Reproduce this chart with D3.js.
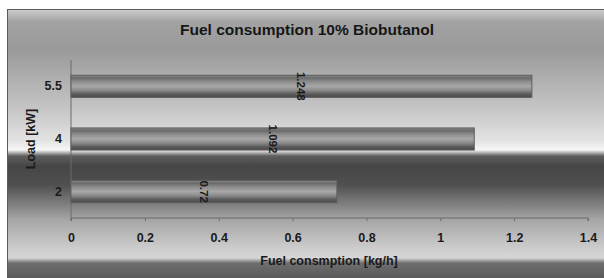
<!DOCTYPE html>
<html lang="en">
<head>
<meta charset="utf-8">
<title>Fuel consumption</title>
<script src="https://d3js.org/d3.v7.min.js"></script>
<style>
  body { margin: 0; background: #fff; }
  svg text { font-family: "Liberation Sans", Arial, sans-serif; }
  .axis path, .axis line { stroke: #6a6a6a; }
  .axis text { font-size: 12.5px; font-weight: bold; fill: #1a1a1a; }
</style>
</head>
<body>
<div class="chart"></div>
<script>
// data
var loads = ["5.5", "4", "2"];
var consumption = [1.248, 1.092, 0.72];
var labels = ["1.248", "1.092", "0.72"];
var xTicks = [0, 0.2, 0.4, 0.6, 0.8, 1, 1.2, 1.4];

var width = 604, height = 278;
var svg = d3.select(".chart").append("svg")
    .attr("width", width)
    .attr("height", height);

var defs = svg.append("defs");

// background gradient of the chart frame
var bg = defs.append("linearGradient")
    .attr("id", "bg")
    .attr("gradientUnits", "userSpaceOnUse")
    .attr("x1", 0).attr("y1", 9).attr("x2", 0).attr("y2", 278);
[[9, "#cfcfcf"], [22, "#a2a2a2"], [50, "#9a9a9a"], [110, "#c6c6c6"], [140, "#e2e2e2"],
 [150, "#f6f6f6"], [156, "#5e5e5e"], [166, "#464646"], [185, "#505050"], [220, "#a6a6a6"],
 [245, "#c8c8c8"], [258, "#d6d6d6"], [263, "#6e6e6e"], [278, "#5a5a5a"]]
  .forEach(function(s) {
      bg.append("stop").attr("offset", (s[0] - 9) / 269).attr("stop-color", s[1]);
  });

// cylinder shading for bars
var bar = defs.append("linearGradient")
    .attr("id", "bar")
    .attr("x1", 0).attr("y1", 0).attr("x2", 0).attr("y2", 1);
[[0, "#8a8a8a"], [0.12, "#6a6a6a"], [0.3, "#8e8e8e"], [0.5, "#a8a8a8"],
 [0.68, "#8a8a8a"], [0.85, "#5c5c5c"], [1, "#4a4a4a"]]
  .forEach(function(s) {
      bar.append("stop").attr("offset", s[0]).attr("stop-color", s[1]);
  });

svg.append("rect")
    .attr("x", 7.5).attr("y", 9.5)
    .attr("width", width).attr("height", height)
    .attr("fill", "url(#bg)")
    .attr("stroke", "#5a5a5a");

// scales
var x = d3.scaleLinear().domain([0, 1.4]).range([71, 588]);
var y = d3.scaleBand().domain(loads).range([60, 218]).paddingInner(0.58).paddingOuter(0.29);

svg.append("g")
    .attr("class", "axis")
    .attr("transform", "translate(0,218)")
    .call(d3.axisBottom(x).tickValues(xTicks).tickFormat(d3.format("")).tickSize(3).tickPadding(12))
    .call(function(g) { g.select(".domain").attr("d", "M71,3V0H588V3"); });

svg.append("g")
    .attr("class", "axis")
    .attr("transform", "translate(71,0)")
    .call(d3.axisLeft(y).tickSize(0).tickPadding(9))
    .call(function(g) { g.select(".domain").attr("d", "M0,60V218"); });

// bars
svg.selectAll(".bar")
    .data(consumption)
    .enter().append("rect")
    .attr("class", "bar")
    .attr("x", x(0))
    .attr("y", function(d, i) { return y(loads[i]); })
    .attr("width", function(d) { return x(d) - x(0); })
    .attr("height", y.bandwidth())
    .attr("fill", "url(#bar)")
    .attr("stroke", "#5e5e5e")
    .attr("stroke-width", 1);

// value labels, rotated
svg.selectAll(".val")
    .data(consumption)
    .enter().append("text")
    .attr("class", "val")
    .attr("transform", function(d, i) {
        return "translate(" + ((x(0) + x(d)) / 2) + "," + (y(loads[i]) + y.bandwidth() / 2) + ") rotate(90)";
    })
    .attr("text-anchor", "middle")
    .attr("dy", "0.35em")
    .style("font-size", "11.5px")
    .style("font-weight", "bold")
    .style("fill", "#1a1a1a")
    .text(function(d, i) { return labels[i]; });

// titles
svg.append("text")
    .attr("x", 307).attr("y", 35)
    .attr("text-anchor", "middle")
    .style("font-size", "15.5px").style("font-weight", "bold").style("fill", "#161616")
    .text("Fuel consumption 10% Biobutanol");

svg.append("text")
    .attr("x", 329).attr("y", 265)
    .attr("text-anchor", "middle")
    .style("font-size", "12.5px").style("font-weight", "bold").style("fill", "#1a1a1a")
    .text("Fuel consmption [kg/h]");

svg.append("text")
    .attr("transform", "translate(35,139) rotate(-90)")
    .attr("text-anchor", "middle")
    .style("font-size", "12.5px").style("font-weight", "bold").style("fill", "#1a1a1a")
    .text("Load [kW]");
</script>
</body>
</html>
